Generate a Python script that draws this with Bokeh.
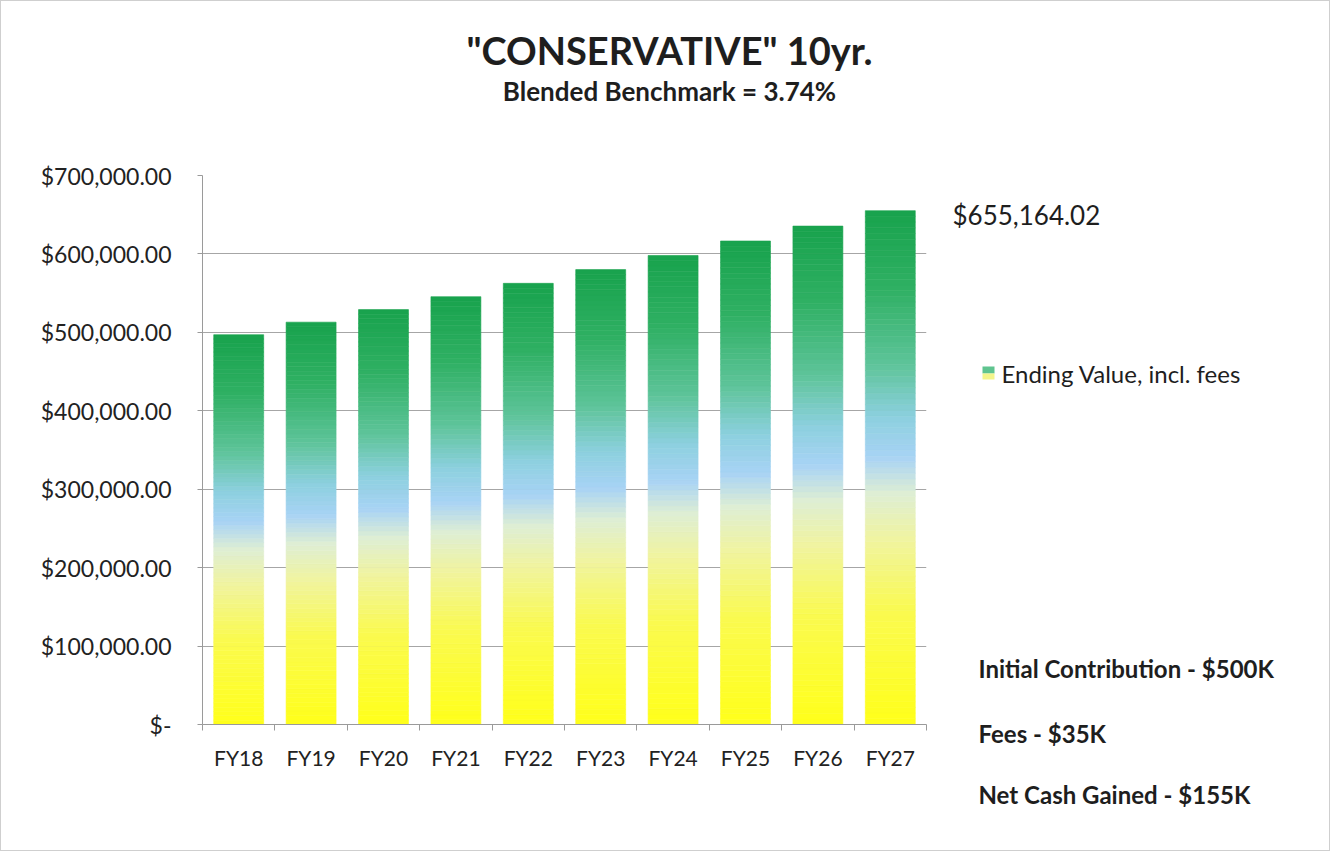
from bokeh.plotting import figure
from bokeh.models import FixedTicker, Range1d
from bokeh.layouts import column, row
from bokeh.core.properties import value
from bokeh.embed import file_html
from bokeh.resources import INLINE

# ---- data ----
categories = ["FY18", "FY19", "FY20", "FY21", "FY22", "FY23", "FY24", "FY25", "FY26", "FY27"]
ending_values = [497000, 513000, 529000, 545500, 562500, 580000, 598000, 616500, 635500, 655164.02]
y_ticks = [0, 100000, 200000, 300000, 400000, 500000, 600000, 700000]
y_tick_labels = ["$-", "$100,000.00", "$200,000.00", "$300,000.00", "$400,000.00",
                 "$500,000.00", "$600,000.00", "$700,000.00"]
title_text = '"CONSERVATIVE" 10yr.'
subtitle_text = "Blended Benchmark = 3.74%"
last_value_label = "$655,164.02"
legend_label = "Ending Value, incl. fees"
notes = ["Initial Contribution - $500K", "Fees - $35K", "Net Cash Gained - $155K"]

# gradient stops (fraction of bar height, colour)
stops = [(0.00, (255, 255, 26)), (0.22, (250, 250, 80)), (0.36, (240, 244, 160)),
         (0.45, (222, 238, 212)), (0.52, (168, 211, 245)), (0.60, (140, 208, 222)),
         (0.70, (94, 196, 154)), (0.85, (47, 176, 99)), (1.00, (24, 163, 77))]

def grad(f):
    for (f0, c0), (f1, c1) in zip(stops[:-1], stops[1:]):
        if f <= f1:
            t = (f - f0) / (f1 - f0) if f1 > f0 else 0
            c = [round(a + (b - a) * t) for a, b in zip(c0, c1)]
            return "#%02x%02x%02x" % tuple(c)
    return "#%02x%02x%02x" % stops[-1][1]

FONT = "Lato"
TXT = "#1e1e1e"
W, H = 1328, 849
TOP_H = 130
FRAME_L, FRAME_R, FRAME_T, FRAME_B = 201, 925, 174, 723
MAIN_W = FRAME_R + 8
SIDE_W = W - MAIN_W
MAIN_H = H - TOP_H

def blank(w, h, xr, yr, **kw):
    f = figure(width=w, height=h, output_backend="svg", toolbar_location=None,
               x_range=xr, y_range=yr, x_axis_type=None, y_axis_type=None, **kw)
    f.outline_line_color = None
    f.grid.grid_line_color = None
    return f

# ---- title strip (above the chart); its frame is aligned with the chart frame ----
top = blank(MAIN_W, TOP_H, Range1d(FRAME_L, FRAME_R), Range1d(TOP_H, 0),
            min_border_left=FRAME_L, min_border_right=MAIN_W - FRAME_R,
            min_border_top=0, min_border_bottom=0)
top.text(x=[668], y=[48], text=[title_text], text_font=value(FONT), text_font_size="38px",
         text_font_style="bold", text_color=TXT, text_align="center", text_baseline="middle")
top.text(x=[668], y=[89], text=[subtitle_text], text_font=value(FONT), text_font_size="26px",
         text_font_style="bold", text_color=TXT, text_align="center", text_baseline="middle")

# ---- main chart ----
p = figure(width=MAIN_W, height=MAIN_H, output_backend="svg", toolbar_location=None,
           x_range=(-0.5, 9.5), y_range=(0, 700000),
           min_border_left=FRAME_L, min_border_right=MAIN_W - FRAME_R,
           min_border_top=FRAME_T - TOP_H, min_border_bottom=H - FRAME_B)
p.outline_line_color = None

N = 90
bw = 0.69
lefts, rights, bottoms, tops, colors = [], [], [], [], []
for i, v in enumerate(ending_values):
    for k in range(N):
        lefts.append(i - bw / 2)
        rights.append(i + bw / 2)
        bottoms.append(v * k / N)
        tops.append(v * (k + 1) / N)
        colors.append(grad((k + 0.5) / N))
p.quad(left=lefts, right=rights, bottom=bottoms, top=tops, fill_color=colors,
       line_color=colors, line_width=0.6)

p.yaxis.ticker = FixedTicker(ticks=y_ticks)
p.yaxis.major_label_overrides = {t: s for t, s in zip(y_ticks, y_tick_labels)}
p.xaxis.ticker = FixedTicker(ticks=list(range(len(categories))),
                             minor_ticks=[i - 0.5 for i in range(len(categories) + 1)])
p.xaxis.major_label_overrides = {i: c for i, c in enumerate(categories)}
for ax in (p.xaxis, p.yaxis):
    ax.axis_line_color = "#9a9a9a"
    ax.major_label_text_font = FONT
    ax.major_label_text_color = "#222222"
p.yaxis.major_label_text_font_size = "23px"
p.xaxis.major_label_text_font_size = "21px"
p.xaxis.major_tick_line_color = None
p.xaxis.minor_tick_line_color = "#9a9a9a"
p.xaxis.minor_tick_in = 0
p.xaxis.minor_tick_out = 6
p.xaxis.major_label_standoff = 14
p.yaxis.major_tick_line_color = "#9a9a9a"
p.yaxis.major_tick_in = 0
p.yaxis.major_tick_out = 5
p.yaxis.minor_tick_line_color = None
p.yaxis.major_label_standoff = 26
p.xgrid.grid_line_color = None
p.ygrid.grid_line_color = "#a6a6a6"

# ---- right-hand text panel, full height; pixel coordinates with y downward ----
side = blank(SIDE_W, H, Range1d(0, SIDE_W), Range1d(H, 0), min_border=0)
x0 = MAIN_W
last_y = FRAME_T + (700000 - ending_values[-1]) / 700000 * (FRAME_B - FRAME_T)
side.text(x=[951 - x0], y=[last_y + 4], text=[last_value_label], text_font=value(FONT),
          text_font_size="26px", text_color=TXT, text_baseline="middle")
side.quad(left=[981 - x0, 981 - x0], right=[993 - x0, 993 - x0],
          top=[365, 372], bottom=[372, 378],
          fill_color=["#5fc48f", "#f3f58a"], line_color=None)
side.text(x=[1000 - x0], y=[372], text=[legend_label], text_font=value(FONT),
          text_font_size="24px", text_color=TXT, text_baseline="middle")
side.text(x=[977 - x0] * 3, y=[667, 732, 793], text=notes,
          text_font=value(FONT), text_font_size="24px", text_font_style="bold",
          text_color=TXT, text_baseline="middle")

layout = row(column(top, p), side)
layout.styles = {"border": "1px solid #cfcfcf"}
open("out.html", "w").write(file_html(layout, INLINE))
